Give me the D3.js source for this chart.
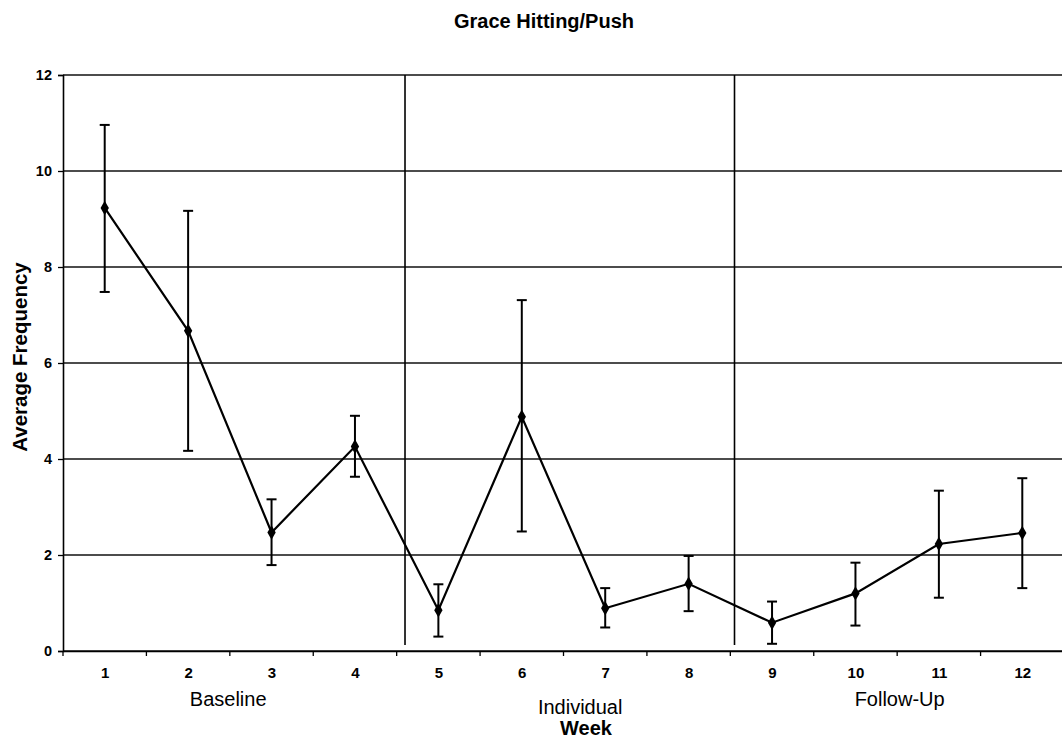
<!DOCTYPE html>
<html><head><meta charset="utf-8">
<script src="https://cdn.jsdelivr.net/npm/d3@7"></script>
<style>body{margin:0;background:#fff}svg{display:block}text{font-family:"Liberation Sans",Arial,sans-serif;fill:#000}</style>
</head><body><svg id="c" width="1062" height="738"></svg>
<script>
const weeks = [1,2,3,4,5,6,7,8,9,10,11,12];
const means = [9.23,6.67,2.47,4.26,0.85,4.88,0.89,1.40,0.59,1.20,2.23,2.46];
const upper = [10.96,9.17,3.16,4.90,1.39,7.31,1.31,1.98,1.03,1.84,3.34,3.60];
const lower = [7.48,4.17,1.79,3.63,0.30,2.49,0.49,0.83,0.15,0.53,1.11,1.31];
const yTicks = [0,2,4,6,8,10,12];
const phaseLines = [4.6,8.55];
const phaseLabels = [{t:"Baseline",x:2.48,y:706,w:"normal"},{t:"Individual",x:6.7,y:714,w:"normal"},{t:"Week",x:6.77,y:735,w:"bold"},{t:"Follow-Up",x:10.53,y:706,w:"normal"}];

const svg = d3.select("#c");
const L=63, R=1064, T=75, B=651;
const x = d3.scaleLinear().domain([0.5,12.5]).range([L,R]);
const y = d3.scaleLinear().domain([0,12]).range([B,T]);
const FF = "Liberation Sans, Arial, sans-serif";

// gridlines
svg.append("g").selectAll("line").data(yTicks).join("line")
  .attr("x1",L).attr("x2",1062).attr("y1",d=>y(d)).attr("y2",d=>y(d))
  .attr("stroke","#111").attr("stroke-width",1.3);

// y axis
const ya = svg.append("g").attr("transform",`translate(${L},0)`)
  .call(d3.axisLeft(y).tickValues(yTicks).tickSize(5).tickPadding(6));
ya.select(".domain").attr("stroke","#000").attr("stroke-width",1.6);
ya.selectAll(".tick line").attr("stroke","#000").attr("stroke-width",1.3);
ya.selectAll("text").attr("font-size",14.5).attr("font-weight","bold").attr("font-family",FF);

// x axis
const xa = svg.append("g").attr("transform",`translate(0,${B})`)
  .call(d3.axisBottom(x).tickValues(weeks).tickSize(0).tickPadding(16).tickFormat(d3.format("d")));
xa.select(".domain").attr("stroke","#000").attr("stroke-width",1.6);
xa.selectAll("text").attr("font-size",15).attr("font-weight","bold").attr("font-family",FF);
svg.append("g").selectAll("line").data(d3.range(0.5,12.6,1)).join("line")
  .attr("x1",d=>x(d)).attr("x2",d=>x(d)).attr("y1",B).attr("y2",B+5)
  .attr("stroke","#000").attr("stroke-width",1.3);

// phase lines
svg.append("g").selectAll("line").data(phaseLines).join("line")
  .attr("x1",d=>x(d)).attr("x2",d=>x(d)).attr("y1",T).attr("y2",645)
  .attr("stroke","#000").attr("stroke-width",1.6);

// error bars
const eb = svg.append("g").attr("stroke","#000").attr("stroke-width",2);
weeks.forEach((w,i)=>{
  eb.append("line").attr("x1",x(w)).attr("x2",x(w)).attr("y1",y(upper[i])).attr("y2",y(lower[i]));
  [upper[i],lower[i]].forEach(v=>eb.append("line").attr("x1",x(w)-5).attr("x2",x(w)+5).attr("y1",y(v)).attr("y2",y(v)));
});

// line
svg.append("path").datum(weeks.map((w,i)=>[w,means[i]]))
  .attr("fill","none").attr("stroke","#000").attr("stroke-width",2.2)
  .attr("d",d3.line().x(d=>x(d[0])).y(d=>y(d[1])));

// markers
svg.append("g").selectAll("path").data(weeks.map((w,i)=>[w,means[i]])).join("path")
  .attr("transform",d=>`translate(${x(d[0])},${y(d[1])})`)
  .attr("d",d3.symbol(d3.symbolDiamond,60)).attr("fill","#000");

// title
svg.append("text").attr("x",544).attr("y",28).attr("text-anchor","middle")
  .attr("font-size",20).attr("font-weight","bold").text("Grace Hitting/Push");

// y label
svg.append("text").attr("transform","translate(27,357) rotate(-90)").attr("text-anchor","middle")
  .attr("font-size",20.5).attr("font-weight","bold").text("Average Frequency");

// phase labels
svg.append("g").selectAll("text").data(phaseLabels).join("text")
  .attr("x",d=>x(d.x)).attr("y",d=>d.y).attr("text-anchor","middle")
  .attr("font-size",20).attr("font-weight",d=>d.w).text(d=>d.t);
</script></body></html>
